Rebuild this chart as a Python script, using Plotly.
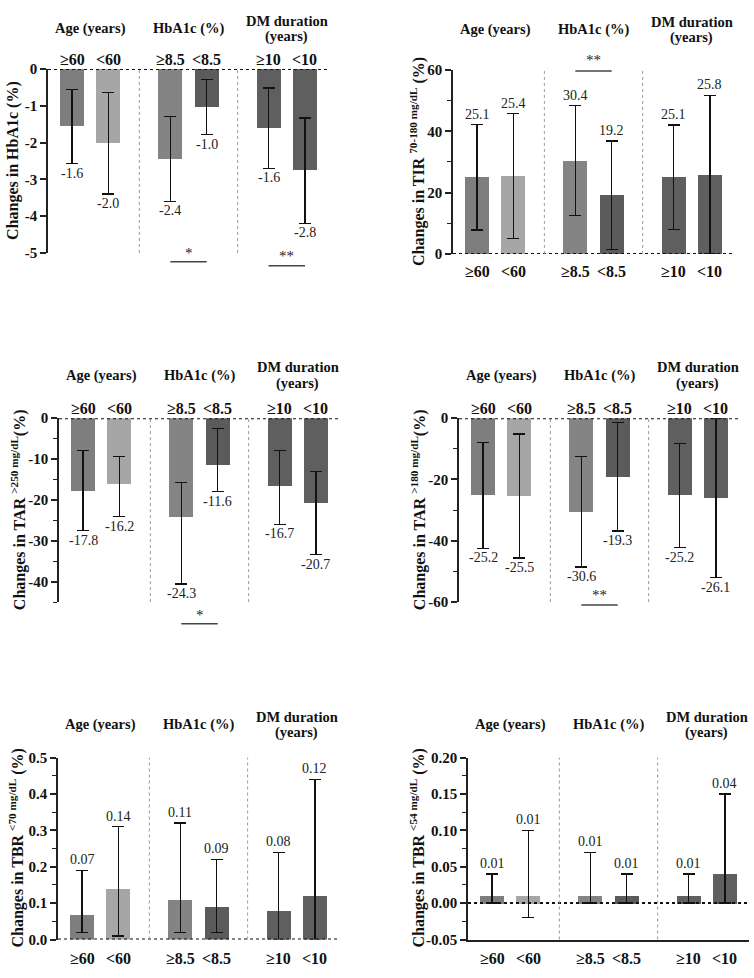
import plotly.graph_objects as go

W, H = 754, 978

categories = ["≥60", "<60", "≥8.5", "<8.5", "≥10", "<10"]
group_titles = ["Age (years)", "HbA1c (%)", "DM duration<br>(years)"]

# Panel A: HbA1c
hba1c_mean = [-1.55, -2.0, -2.44, -1.04, -1.6, -2.75]
hba1c_hi = [-0.55, -0.64, -1.29, -0.28, -0.52, -1.33]
hba1c_lo = [-2.57, -3.40, -3.60, -1.79, -2.70, -4.20]
hba1c_text = ["-1.6", "-2.0", "-2.4", "-1.0", "-1.6", "-2.8"]
hba1c_ticks = [0, -1, -2, -3, -4, -5]
hba1c_ticktext = ["0", "-1", "-2", "-3", "-4", "-5"]

# Panel B: TIR 70-180
tir_mean = [25.1, 25.4, 30.4, 19.2, 25.1, 25.8]
tir_hi = [42.2, 45.7, 48.4, 36.8, 42.0, 51.7]
tir_lo = [7.8, 5.1, 12.5, 1.5, 8.0, 0.0]
tir_text = ["25.1", "25.4", "30.4", "19.2", "25.1", "25.8"]
tir_ticks = [0, 20, 40, 60]
tir_ticktext = ["0", "20", "40", "60"]

# Panel C: TAR >250
tar250_mean = [-17.8, -16.2, -24.3, -11.5, -16.6, -20.7]
tar250_hi = [-7.9, -9.4, -15.7, -2.6, -7.9, -13.0]
tar250_lo = [-27.5, -24.1, -40.6, -18.0, -26.0, -33.4]
tar250_text = ["-17.8", "-16.2", "-24.3", "-11.6", "-16.7", "-20.7"]
tar250_ticks = [0, -10, -20, -30, -40]
tar250_ticktext = ["0", "-10", "-20", "-30", "-40"]

# Panel D: TAR >180
tar180_mean = [-25.2, -25.5, -30.6, -19.2, -25.2, -26.1]
tar180_hi = [-7.9, -5.2, -12.5, -1.5, -8.2, 0.0]
tar180_lo = [-42.5, -45.6, -48.5, -36.8, -42.2, -52.0]
tar180_text = ["-25.2", "-25.5", "-30.6", "-19.3", "-25.2", "-26.1"]
tar180_ticks = [0, -20, -40, -60]
tar180_ticktext = ["0", "-20", "-40", "-60"]

# Panel E: TBR <70
tbr70_mean = [0.07, 0.14, 0.11, 0.09, 0.08, 0.12]
tbr70_hi = [0.19, 0.31, 0.32, 0.22, 0.24, 0.44]
tbr70_lo = [0.02, 0.01, 0.02, 0.02, 0.0, 0.0]
tbr70_text = ["0.07", "0.14", "0.11", "0.09", "0.08", "0.12"]
tbr70_ticks = [0, 0.1, 0.2, 0.3, 0.4, 0.5]
tbr70_ticktext = ["0.0", "0.1", "0.2", "0.3", "0.4", "0.5"]

# Panel F: TBR <54
tbr54_mean = [0.01, 0.01, 0.01, 0.01, 0.01, 0.04]
tbr54_hi = [0.04, 0.10, 0.07, 0.04, 0.04, 0.15]
tbr54_lo = [0.0, -0.02, 0.0, 0.0, 0.0, 0.0]
tbr54_text = ["0.01", "0.01", "0.01", "0.01", "0.01", "0.04"]
tbr54_ticks = [-0.05, 0, 0.05, 0.10, 0.15, 0.20]
tbr54_ticktext = ["-0.05", "0.00", "0.05", "0.10", "0.15", "0.20"]

# ---------------- style / layout -----------------
FONT = "Liberation Serif"
bar_colors = ["#7e7e7e", "#a6a6a6", "#848484", "#5b5b5b", "#5f5f5f", "#5f5f5f"]
GROUP_STEP = 2.7
positions = [g * GROUP_STEP + s for g in range(3) for s in range(2)]
separators = [(positions[1] + positions[2]) / 2, (positions[3] + positions[4]) / 2]
XR = [-0.66, 7.06]
BAR_W = 0.66
DOM_W = 281
TITLE_LINE_GAP = 16

panels = [
    dict(mean=hba1c_mean, hi=hba1c_hi, lo=hba1c_lo, text=hba1c_text,
         ticks=hba1c_ticks, ticktext=hba1c_ticktext, rng=[-5, 0], minor=None,
         title="Changes in HbA1c (%)", left=48, top=62, bottom=249, tx=13,
         neg=True, cat_top=True, cat_shift=9, grp_shift=40, bottom_line=False),
    dict(mean=tir_mean, hi=tir_hi, lo=tir_lo, text=tir_text,
         ticks=tir_ticks, ticktext=tir_ticktext, rng=[0, 60], minor=10,
         title="Changes in TIR <sup>70-180 mg/dL</sup> (%)", left=453, top=63, bottom=250, tx=418,
         neg=False, cat_top=False, cat_shift=-18, grp_shift=40, bottom_line=False),
    dict(mean=tar250_mean, hi=tar250_hi, lo=tar250_lo, text=tar250_text,
         ticks=tar250_ticks, ticktext=tar250_ticktext, rng=[-45, 0], minor=5,
         title="Changes in TAR <sup>&gt;250 mg/dL</sup>(%)", left=59, top=417, bottom=604, tx=18,
         neg=True, cat_top=True, cat_shift=10, grp_shift=43, bottom_line=False),
    dict(mean=tar180_mean, hi=tar180_hi, lo=tar180_lo, text=tar180_text,
         ticks=tar180_ticks, ticktext=tar180_ticktext, rng=[-60, 0], minor=10,
         title="Changes in TAR <sup>&gt;180 mg/dL</sup>(%)", left=459, top=417, bottom=604, tx=418,
         neg=True, cat_top=True, cat_shift=10, grp_shift=43, bottom_line=False),
    dict(mean=tbr70_mean, hi=tbr70_hi, lo=tbr70_lo, text=tbr70_text,
         ticks=tbr70_ticks, ticktext=tbr70_ticktext, rng=[0, 0.5], minor=0.05,
         title="Changes in TBR <sup>&lt;70 mg/dL</sup> (%)", left=58, top=762, bottom=947, tx=17,
         neg=False, cat_top=False, cat_shift=-19, grp_shift=33, bottom_line=False),
    dict(mean=tbr54_mean, hi=tbr54_hi, lo=tbr54_lo, text=tbr54_text,
         ticks=tbr54_ticks, ticktext=tbr54_ticktext, rng=[-0.05, 0.2], minor=0.025,
         title="Changes in TBR <sup>&lt;54 mg/dL</sup> (%)", left=468, top=762, bottom=947, tx=418,
         neg=False, cat_top=False, cat_shift=-19, grp_shift=33, bottom_line=True),
]

# significance marks: (panel, text, group, star_y_px, line_y_px)
sig_marks = [
    (0, "*", 1, 249, 258),
    (0, "**", 2, 252, 262),
    (1, "**", 1, 53, 64),
    (2, "*", 1, 617, 626),
    (3, "**", 1, 597, 607),
]


def px_x(p, x):
    return p["left"] + (x - XR[0]) / (XR[1] - XR[0]) * DOM_W


fig = go.Figure()
annotations = []
shapes = []

for i, p in enumerate(panels):
    n = "" if i == 0 else str(i + 1)
    xa, ya = "x" + n, "y" + n
    fig.add_trace(go.Bar(
        x=positions, y=p["mean"], width=BAR_W,
        marker=dict(color=bar_colors, line=dict(width=0)),
        error_y=dict(type="data", symmetric=False,
                     array=[h - m for h, m in zip(p["hi"], p["mean"])],
                     arrayminus=[m - l for m, l in zip(p["mean"], p["lo"])],
                     color="#111111", thickness=1.3, width=6),
        xaxis=xa, yaxis=ya, hoverinfo="skip", showlegend=False,
    ))
    xdom = [p["left"] / W, (p["left"] + DOM_W) / W]
    ydom = [1 - p["bottom"] / H, 1 - p["top"] / H]
    yax = dict(domain=ydom, range=p["rng"], anchor=xa,
               tickmode="array", tickvals=p["ticks"], ticktext=p["ticktext"],
               showline=True, linecolor="#222222", linewidth=1.5,
               ticks="outside", ticklen=6, tickwidth=1.5, tickcolor="#222222",
               tickfont=dict(family=FONT, size=15, color="#111111", weight="bold"),
               showgrid=False, zeroline=False)
    if p["minor"]:
        yax["minor"] = dict(tick0=0, dtick=p["minor"], ticks="outside", ticklen=4,
                            tickwidth=1.3, tickcolor="#222222", showgrid=False)
    xax = dict(domain=xdom, range=XR, anchor=ya, showgrid=False, zeroline=False,
               showticklabels=False, ticks="", showline=p["bottom_line"],
               linecolor="#222222", linewidth=1.5)
    fig.update_layout(**{"xaxis" + n: xax, "yaxis" + n: yax})

    # dotted zero line
    shapes.append(dict(type="line", xref=xa, yref=ya, x0=XR[0], x1=XR[1], y0=0, y1=0,
                       line=dict(color="#111111", width=2, dash="dot")))
    # dotted group separators
    for s in separators:
        shapes.append(dict(type="line", xref=xa, yref=ya + " domain", x0=s, x1=s, y0=0, y1=1,
                           line=dict(color="#9a9a9a", width=1, dash="dot")))
    # value labels
    for x, h, l, t in zip(positions, p["hi"], p["lo"], p["text"]):
        if p["neg"]:
            annotations.append(dict(x=x, y=l, xref=xa, yref=ya, text=t, showarrow=False,
                                    yanchor="top", yshift=0,
                                    font=dict(family=FONT, size=14, color="#222222")))
        else:
            annotations.append(dict(x=x, y=h, xref=xa, yref=ya, text=t, showarrow=False,
                                    yanchor="bottom", yshift=1,
                                    font=dict(family=FONT, size=14, color="#222222")))
    # category labels
    for x, c in zip(positions, categories):
        if p["cat_top"]:
            annotations.append(dict(x=x, y=0, xref=xa, yref=ya, text="<b>" + c + "</b>",
                                    showarrow=False, yanchor="middle", yshift=p["cat_shift"],
                                    font=dict(family=FONT, size=16, color="#111111")))
        else:
            annotations.append(dict(x=x, y=0, xref=xa, yref=ya + " domain", text="<b>" + c + "</b>",
                                    showarrow=False, yanchor="middle", yshift=p["cat_shift"],
                                    font=dict(family=FONT, size=16, color="#111111")))
    # group titles (each line placed separately for tight line spacing)
    for g, gt in enumerate(group_titles):
        gx = (positions[2 * g] + positions[2 * g + 1]) / 2
        lines = gt.split("<br>")
        k = len(lines)
        for j, line in enumerate(lines):
            off = ((k - 1) / 2 - j) * TITLE_LINE_GAP
            annotations.append(dict(x=gx, y=1, xref=xa, yref=ya + " domain",
                                    text="<b>" + line + "</b>", showarrow=False,
                                    yanchor="middle", yshift=p["grp_shift"] + off,
                                    font=dict(family=FONT, size=14.5, color="#111111")))
    # y-axis title
    annotations.append(dict(x=p["tx"] / W, y=1 - (p["top"] + p["bottom"]) / 2 / H,
                            xref="paper", yref="paper", text="<b>" + p["title"] + "</b>",
                            textangle=-90, showarrow=False, xanchor="center", yanchor="middle",
                            font=dict(family=FONT, size=16, color="#111111")))

for pi, txt, g, sy, ly in sig_marks:
    p = panels[pi]
    x0 = px_x(p, positions[2 * g])
    x1 = px_x(p, positions[2 * g + 1])
    shapes.append(dict(type="line", xref="paper", yref="paper", x0=x0 / W, x1=x1 / W,
                       y0=1 - ly / H, y1=1 - ly / H, line=dict(color="#444444", width=1.5)))
    annotations.append(dict(x=(x0 + x1) / 2 / W, y=1 - sy / H, xref="paper", yref="paper",
                            text=txt, showarrow=False, xanchor="center", yanchor="middle",
                            font=dict(family=FONT, size=15, color="#222222")))

fig.update_layout(width=W, height=H, margin=dict(l=0, r=0, t=0, b=0),
                  paper_bgcolor="white", plot_bgcolor="white", showlegend=False,
                  bargap=0, font=dict(family=FONT),
                  annotations=annotations, shapes=shapes)

fig.write_html("out.html", config={"displayModeBar": False},
               post_script="document.documentElement.style.margin='0';document.body.style.margin='0';document.body.style.padding='0';document.body.style.overflow='hidden';")
